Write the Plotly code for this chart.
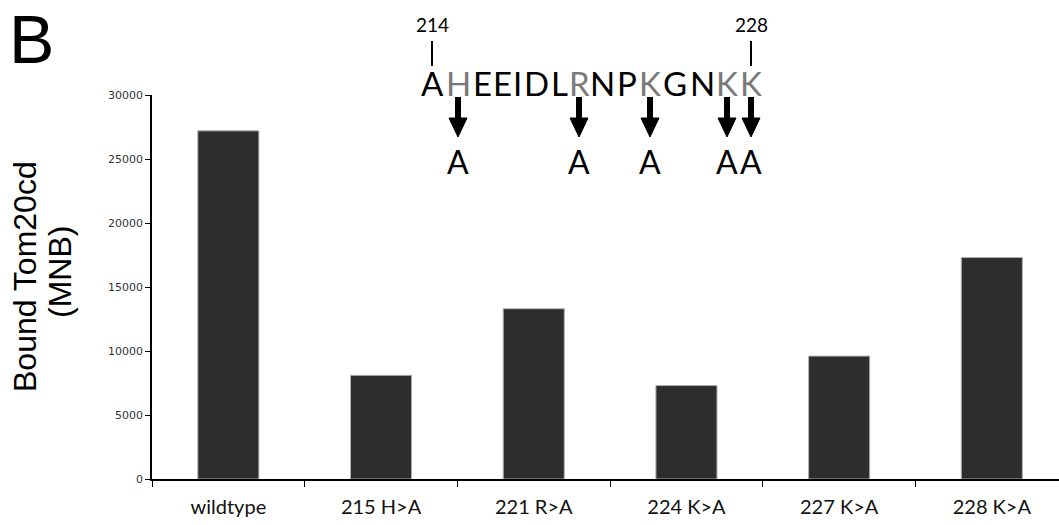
import plotly.graph_objects as go

# ---- data ----
categories = ["wildtype", "215 H>A", "221 R>A", "224 K>A", "227 K>A", "228 K>A"]
bound_tom20 = [27200, 8100, 13300, 7300, 9600, 17300]
y_ticks = [0, 5000, 10000, 15000, 20000, 25000, 30000]
sequence = list("AHEEIDLRNPKGNKK")
seq_start = 214
mutated_residues = [215, 221, 224, 227, 228]
end_labels = [214, 228]

# ---- layout geometry (page pixels; body margin removed below) ----
W, H = 1059, 525
PL, PT, PB = 152, 95, 479    # plot area (left, top, bottom)
L, T, B, R = PL, PT, H - PB, 0
PW, PH = W - L - R, H - T - B
CAT_PX = 152.7


def px(x):
    return (x - PL) / PW


def py(y):
    return (PB - y) / PH


# measured letter centre x positions of the sequence
letter_x = [432, 458, 482, 502, 517, 536, 559, 579, 602, 627, 650, 675, 702, 727, 751]

fig = go.Figure()
fig.add_trace(go.Bar(
    x=categories, y=bound_tom20, width=0.4,
    marker=dict(color="#2d2d2d", line=dict(color="#b0b0b0", width=1)),
    showlegend=False, hoverinfo="skip",
))

annotations = []
shapes = []

annotations.append(dict(text="B", x=px(31), y=py(0), xref="paper", yref="paper",
                        showarrow=False, font=dict(family="Liberation Sans", size=68, color="#000"),
                        xanchor="center", yanchor="top", borderpad=0))
annotations.append(dict(text="Bound Tom20cd", x=px(25), y=py(277), xref="paper", yref="paper",
                        showarrow=False, textangle=-90,
                        font=dict(family="Liberation Sans", size=32, color="#000"),
                        xanchor="center", yanchor="middle"))
annotations.append(dict(text="(MNB)", x=px(60), y=py(272), xref="paper", yref="paper",
                        showarrow=False, textangle=-90,
                        font=dict(family="Liberation Sans", size=32, color="#000"),
                        xanchor="center", yanchor="middle"))

for i, aa in enumerate(sequence):
    resnum = seq_start + i
    col = "#7a7a7a" if resnum in mutated_residues else "#000000"
    annotations.append(dict(text=aa, x=px(letter_x[i]), y=py(83), xref="paper", yref="paper",
                            showarrow=False, font=dict(family="Lato", size=33, color=col),
                            xanchor="center", yanchor="middle"))
    if resnum in mutated_residues:
        xc = letter_x[i]
        shapes.append(dict(type="line", xref="paper", yref="paper",
                           x0=px(xc), x1=px(xc), y0=py(97), y1=py(120),
                           line=dict(color="#000", width=6)))
        shapes.append(dict(type="path", xref="paper", yref="paper",
                           path=f"M{px(xc-9)},{py(118)} L{px(xc+9)},{py(118)} L{px(xc)},{py(137)} Z",
                           fillcolor="#000", line=dict(color="#000", width=1)))
        annotations.append(dict(text="A", x=px(xc), y=py(161), xref="paper", yref="paper",
                                showarrow=False, font=dict(family="Lato", size=32, color="#000"),
                                xanchor="center", yanchor="middle"))
    if resnum in end_labels:
        xc = letter_x[i]
        annotations.append(dict(text=str(resnum), x=px(xc), y=py(25), xref="paper", yref="paper",
                                showarrow=False, font=dict(family="Lato", size=19, color="#000"),
                                xanchor="center", yanchor="middle"))
        shapes.append(dict(type="line", xref="paper", yref="paper",
                           x0=px(xc), x1=px(xc), y0=py(41), y1=py(66),
                           line=dict(color="#000", width=2)))

fig.update_layout(
    width=W, height=H,
    margin=dict(l=L, r=R, t=T, b=B),
    paper_bgcolor="white", plot_bgcolor="white",
    hovermode=False,
    annotations=annotations, shapes=shapes,
    xaxis=dict(range=[-0.5, -0.5 + PW / CAT_PX], showline=True, linecolor="#000", linewidth=1.5,
               ticks="outside", tickson="boundaries", ticklen=6, tickcolor="#000", tickwidth=1,
               tickfont=dict(family="Lato", size=20, color="#111"), ticklabelstandoff=9,
               showgrid=False, zeroline=False),
    yaxis=dict(range=[0, 30000], tickvals=y_ticks, tickformat="d", showline=True,
               linecolor="#000", linewidth=1.5,
               ticks="outside", ticklen=5, tickcolor="#000", tickwidth=1,
               tickfont=dict(family="DejaVu Sans", size=11, color="#333"),
               showgrid=False, zeroline=False),
)

fig.write_html("out.html", config={"displayModeBar": False},
               post_script="document.body.style.margin='0';document.body.style.overflow='hidden';")
